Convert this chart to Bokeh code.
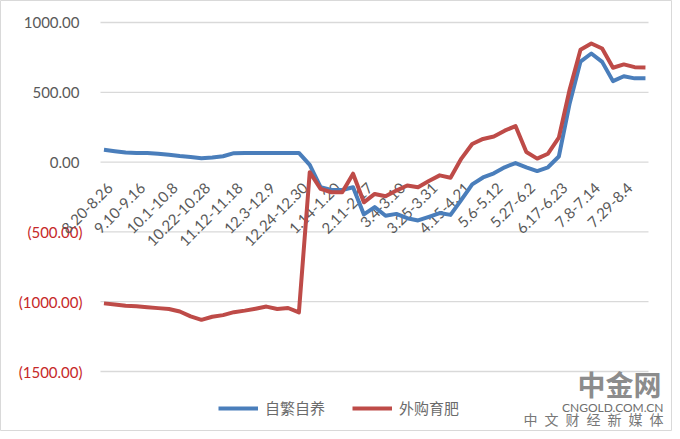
import math
from bokeh.plotting import figure
from bokeh.models import Range1d, Legend, LegendItem, Label
from bokeh.core.properties import value
from bokeh.embed import file_html
from bokeh.resources import INLINE

weeks = ["8.20-8.26", "8.27-9.2", "9.3-9.9", "9.10-9.16", "9.17-9.23", "9.24-9.30",
         "10.1-10.8", "10.9-10.14", "10.15-10.21", "10.22-10.28", "10.29-11.4", "11.5-11.11",
         "11.12-11.18", "11.19-11.25", "11.26-12.2", "12.3-12.9", "12.10-12.16", "12.17-12.23",
         "12.24-12.30", "12.31-1.6", "1.7-1.13", "1.14-1.20", "1.21-1.27", "1.28-2.3",
         "2.11-2.17", "2.18-2.24", "2.25-3.3", "3.4-3.10", "3.11-3.17", "3.18-3.24",
         "3.25-3.31", "4.1-4.7", "4.8-4.14", "4.15-4.21", "4.22-4.28", "4.29-5.5",
         "5.6-5.12", "5.13-5.19", "5.20-5.26", "5.27-6.2", "6.3-6.9", "6.10-6.16",
         "6.17-6.23", "6.24-6.30", "7.1-7.7", "7.8-7.14", "7.15-7.21", "7.22-7.28",
         "7.29-8.4", "8.5-8.11", "8.12-8.18"]

tick_labels = ["8.20-8.26", "9.10-9.16", "10.1-10.8", "10.22-10.28", "11.12-11.18",
               "12.3-12.9", "12.24-12.30", "1.14-1.20", "2.11-2.17", "3.4-3.10",
               "3.25-3.31", "4.15-4.21", "5.6-5.12", "5.27-6.2", "6.17-6.23",
               "7.8-7.14", "7.29-8.4"]

self_bred = [88, 78, 68, 66, 66, 60, 52, 43, 36, 28, 33, 42, 64, 66, 66, 66, 66, 66, 66,
             -20, -180, -200, -200, -180, -375, -322, -384, -371, -402, -418, -392, -365,
             -378, -270, -160, -110, -80, -37, -7, -37, -64, -37, 40, 420, 720, 778, 718,
             580, 615, 600, 600]

purchased = [-1012, -1020, -1029, -1033, -1040, -1046, -1052, -1070, -1105, -1130, -1108,
             -1096, -1075, -1064, -1050, -1035, -1052, -1045, -1077,
             -72, -192, -216, -216, -83, -288, -228, -245, -204, -168, -180, -135, -95,
             -112, 25, 130, 166, 183, 225, 258, 72, 25, 60, 175, 520, 805, 850, 814,
             676, 700, 680, 678]

series_names = ["自繁自养", "外购育肥"]
y_ticks_pos = [0, 500, 1000]
y_ticks_neg = [-1500, -1000, -500]

# ---- styling / layout constants ----
GRAY = "#595959"
RED_TXT = "#c62828"
BLUE = "#4a7ebb"
RED = "#be4b48"
FONT = "Lato"
FS = "15px"
W, H = 672, 431
PLOT_L, PLOT_R, PLOT_T, PLOT_B = 100, 648, 22, 371   # plot area in canvas pixels
X_LO, X_HI = -0.32, 50.28                            # data extent of the plot area
Y_LO, Y_HI = -1500, 1000
LABEL_DX, LABEL_DY = 6, 23                           # px from tick (on zero line) to label end

ppx = (PLOT_R - PLOT_L) / (X_HI - X_LO)
ppy = (PLOT_B - PLOT_T) / (Y_HI - Y_LO)
x_range = Range1d(X_LO - PLOT_L / ppx, X_HI + (W - PLOT_R) / ppx)
y_range = Range1d(Y_LO - (H - PLOT_B) / ppy, Y_HI + PLOT_T / ppy)

x = list(range(len(weeks)))

p = figure(width=W, height=H, output_backend="svg", toolbar_location=None,
           x_range=x_range, y_range=y_range, x_axis_type=None, y_axis_type=None,
           min_border=0)
p.outline_line_color = "#d9d9d9"
p.outline_line_width = 1
p.background_fill_color = "white"
p.border_fill_color = "white"

# horizontal grid lines across the plot area
all_ticks = y_ticks_neg + y_ticks_pos
p.segment(x0=[X_LO] * len(all_ticks), x1=[X_HI] * len(all_ticks), y0=all_ticks, y1=all_ticks,
          line_color="#d9d9d9", line_width=1.3)

# y tick labels
p.text(x=[X_LO] * len(y_ticks_pos), y=y_ticks_pos, text=[f"{v:.2f}" for v in y_ticks_pos],
       x_offset=-21, text_align="right", text_baseline="middle",
       text_font=value(FONT), text_font_size=FS, text_color=GRAY)
p.text(x=[X_LO] * len(y_ticks_neg), y=y_ticks_neg, text=[f"({abs(v):.2f})" for v in y_ticks_neg],
       x_offset=-18, text_align="right", text_baseline="middle",
       text_font=value(FONT), text_font_size=FS, text_color=RED_TXT)

# x tick labels (rotated, hanging from the zero line)
tick_idx = [weeks.index(t) for t in tick_labels]
p.text(x=[i + LABEL_DX / ppx for i in tick_idx], y=[-LABEL_DY / ppy] * len(tick_idx),
       text=tick_labels, angle=math.pi / 4, text_align="right", text_baseline="middle",
       text_font=value(FONT), text_font_size=FS, text_color=GRAY)

r1 = p.line(x, self_bred, line_color=BLUE, line_width=4, line_join="round")
r2 = p.line(x, purchased, line_color=RED, line_width=4, line_join="round")

legend = Legend(items=[LegendItem(label=series_names[0], renderers=[r1]),
                       LegendItem(label=series_names[1], renderers=[r2])],
                orientation="horizontal", location=(218, 13))
legend.padding = 0
legend.margin = 0
legend.spacing = 27
legend.glyph_width = 40
legend.glyph_height = 20
legend.label_standoff = 7
legend.label_text_font = "Noto Sans CJK SC"
legend.label_text_font_size = "15px"
legend.label_text_color = "#6b6b6b"
legend.border_line_color = None
legend.background_fill_alpha = 0
p.add_layout(legend)

wm1 = Label(x=577, y=48, x_units="screen", y_units="screen", text="中金网",
            text_font="Noto Sans CJK SC", text_font_size="28px", text_font_style="bold",
            text_color="#8c8c8c", text_baseline="middle")
wm2 = Label(x=663, y=24, x_units="screen", y_units="screen", text="CNGOLD.COM.CN",
            text_font="Lato", text_font_size="12px", text_color="#6e6e6e",
            text_baseline="middle", text_align="right")
wm3 = Label(x=663, y=13, x_units="screen", y_units="screen",
            text="中\u2002文\u2002财\u2002经\u2002新\u2002媒\u2002体",
            text_font="Noto Sans CJK SC", text_font_size="14px", text_color="#777777",
            text_baseline="middle", text_align="right")
for w in (wm1, wm2, wm3):
    p.add_layout(w)

open("out.html", "w").write(file_html(p, INLINE))
